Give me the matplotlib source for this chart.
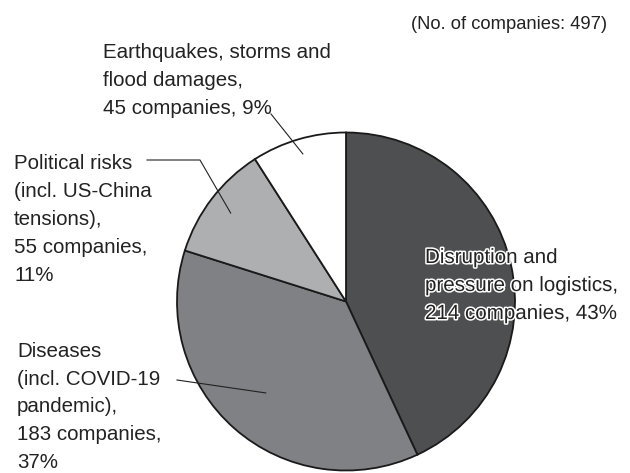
import numpy as np
import matplotlib
matplotlib.use("Agg")
import matplotlib.pyplot as plt
import matplotlib.patheffects as pe

plt.rcParams['font.family'] = ['Liberation Sans', 'DejaVu Sans']

# risk categories, clockwise from 12 o'clock
labels = [
    "Disruption and\npressure on logistics,\n214 companies, 43%",
    "Diseases\n(incl. COVID-19\npandemic),\n183 companies,\n37%",
    "Political risks\n(incl. US-China\ntensions),\n55 companies,\n11%",
    "Earthquakes, storms and\nflood damages,\n45 companies, 9%",
]
counts = [214, 183, 55, 45]
colors = ["#4e4f51", "#808185", "#aeafb1", "#ffffff"]
total_note = "(No. of companies: 497)"

W, H = 630, 473
fig = plt.figure(figsize=(W / 100, H / 100), dpi=100)
ax = fig.add_axes([0, 0, 1, 1])

cx, cy, r = 346, H - 301.5, 169
wedges, _ = ax.pie(counts, colors=colors, startangle=90, counterclock=False,
                   center=(cx, cy), radius=r, frame=True,
                   wedgeprops=dict(edgecolor="#1a1a1a", linewidth=1.3))
ax.set_xlim(0, W)
ax.set_ylim(0, H)
ax.set_aspect("equal")
ax.axis("off")

fs = 14.8
ls = 1.6
ink = "#222222"


def inner_point(w, frac):
    ang = np.deg2rad((w.theta1 + w.theta2) / 2)
    return cx + frac * r * np.cos(ang), cy + frac * r * np.sin(ang)


# logistics label sits over its own slice, outlined in white
ax.text(425, H - 248, labels[0], fontsize=fs, linespacing=ls, va="top",
        ha="left", color=ink,
        path_effects=[pe.withStroke(linewidth=2.2, foreground="white")])

# diseases
ax.text(17, H - 342, labels[1], fontsize=fs, linespacing=1.58, va="top",
        ha="left", color=ink)
px, py = inner_point(wedges[1], 0.72)
ax.plot([177, px], [H - 380, py], color=ink, lw=0.8)

# political risks
ax.text(14, H - 154, labels[2], fontsize=fs, linespacing=ls, va="top",
        ha="left", color=ink)
px, py = inner_point(wedges[2], 0.86)
ax.plot([147, 200, px], [H - 160, H - 160, py], color=ink, lw=0.8)

# earthquakes
ax.text(103, H - 43, labels[3], fontsize=fs, linespacing=ls, va="top",
        ha="left", color=ink)
px, py = inner_point(wedges[3], 0.91)
ax.plot([271, px], [H - 114, py], color=ink, lw=0.8)

ax.text(607, H - 25, total_note, fontsize=13.2, ha="right",
        va="center", color=ink)

fig.savefig("out.png", dpi=100)
